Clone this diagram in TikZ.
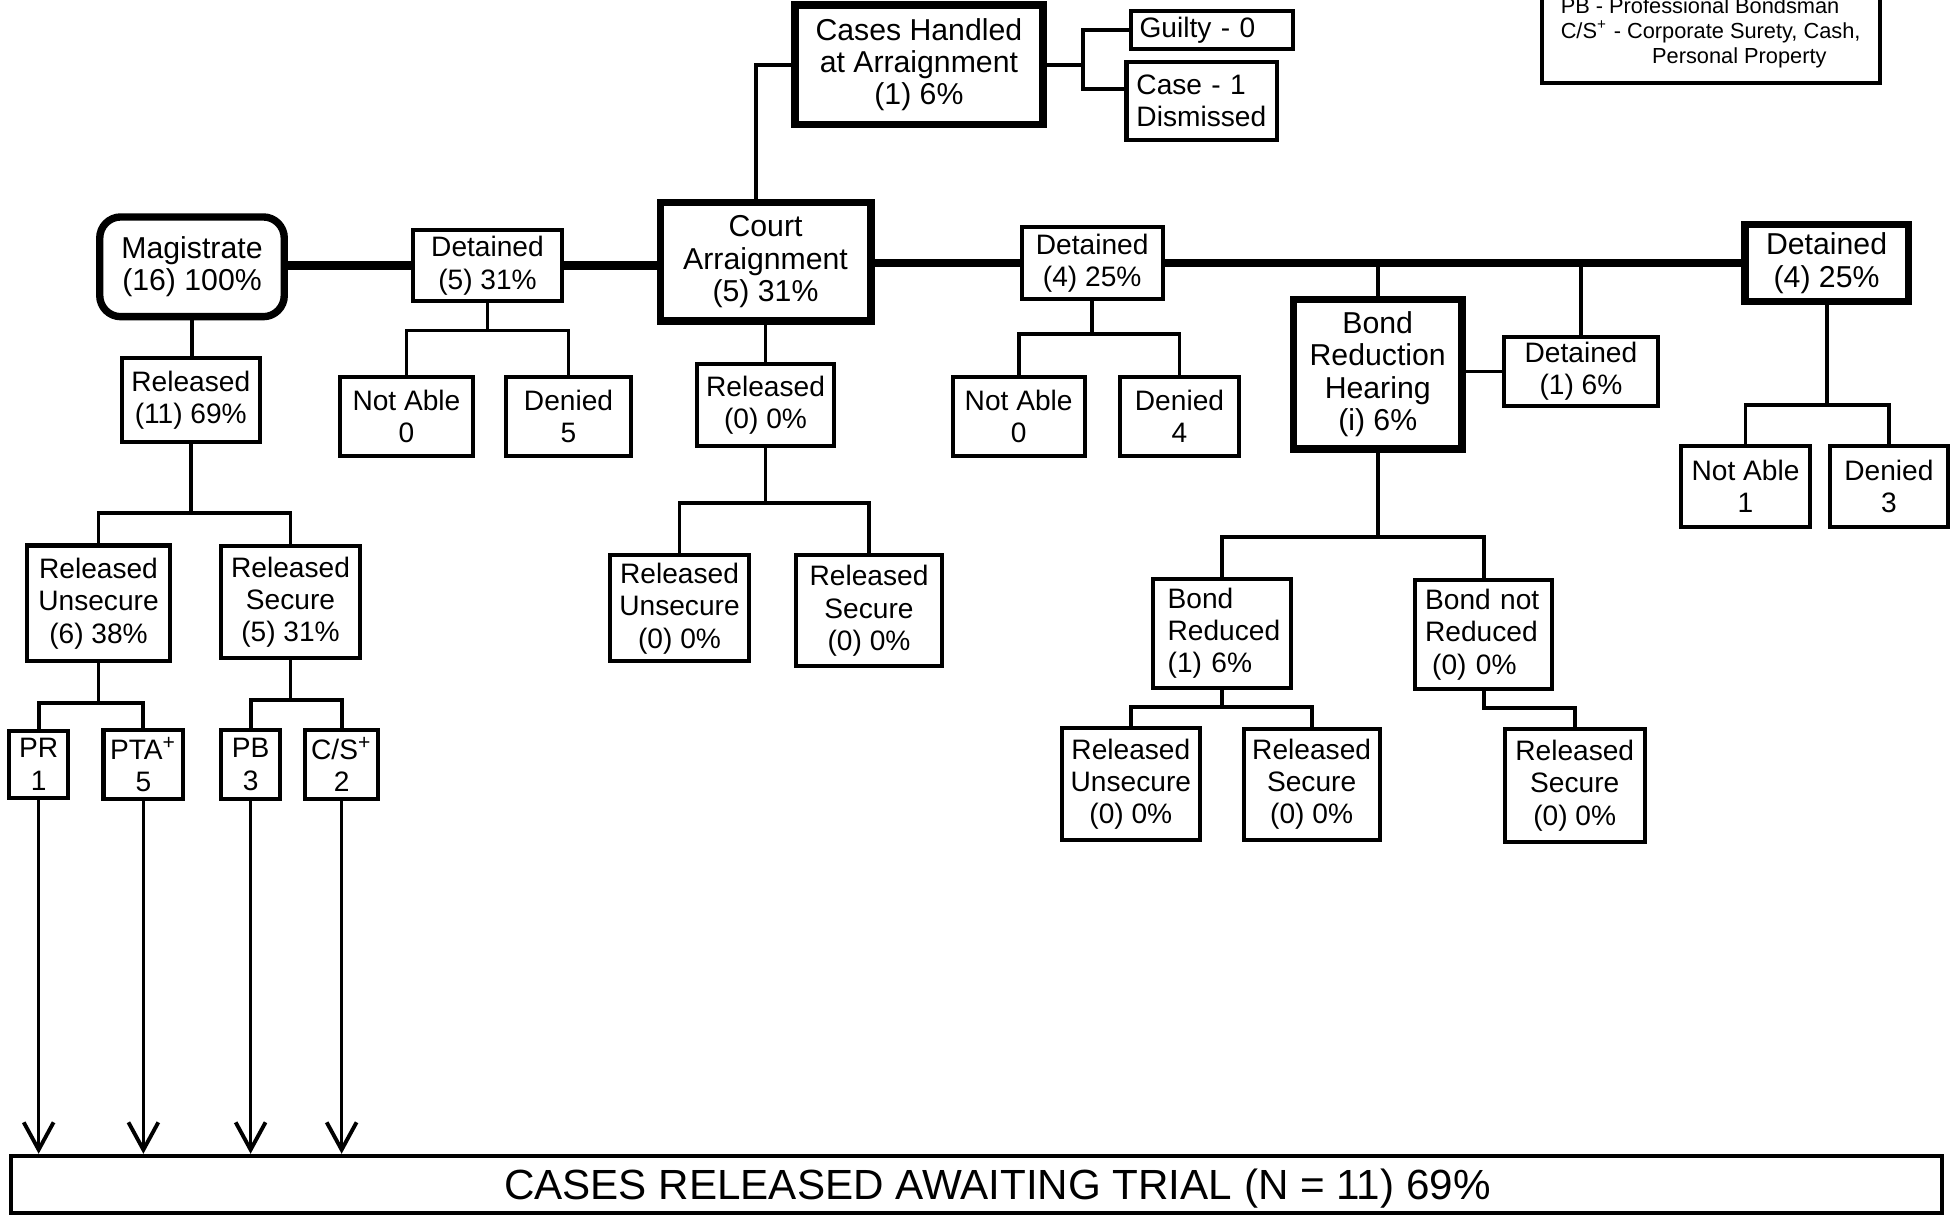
\documentclass[tikz,border=0pt]{standalone}
\usepackage{fontspec}
\setmainfont{Liberation Sans}
\usepackage{tikz}
\usetikzlibrary{arrows.meta}
\newcommand\pxl{0.012468cm}
\tikzset{ box_size/.style 2 args = {minimum width=#1*\pxl, minimum height=#2*\pxl} }
\tikzset{ leaf_box/.style = {rectangle, draw, line width=1.15pt, inner sep=0pt, align=center, font=\fontsize{8}{9.2}\selectfont} }
\tikzset{ stage_box/.style = {leaf_box, line width=2.1pt, font=\fontsize{8.6}{9.2}\selectfont} }
\tikzset{ trunk_line/.style = {line width=2.5pt} }
\tikzset{ link_line/.style = {line width=1.1pt} }
\tikzset{ flow_line/.style = {line width=0.8pt, -{Straight Barb[length=7.8pt,width=8.5pt,line width=1.1pt]}} }

\begin{document}
\begin{tikzpicture}[x=\pxl, y=-\pxl]
            \clip (0,0) rectangle (1568,975);
                    % magistrate stage
                    \node [stage_box, box_size={148}{80}, rounded corners=6pt] (mag) at (154,214) {Magistrate\\(16) 100\%};
                    \node [leaf_box, box_size={120}{57}] (det_mag) at (391,213) {Detained\\(5) 31\%};
                    \node [leaf_box, box_size={106}{63}] (notable_mag) at (326,334) {Not Able\\0};
                    \node [leaf_box, box_size={100}{63}] (denied_mag) at (456,334) {Denied\\5};
                    \node [leaf_box, box_size={111}{67}] (rel_mag) at (153,321) {Released\\(11) 69\%};
                    \node [leaf_box, box_size={114}{93}] (uns_mag) at (79,484) {Released\\Unsecure\\(6) 38\%};
                    \node [leaf_box, box_size={111}{90}] (sec_mag) at (233,483) {Released\\Secure\\(5) 31\%};
                    \node [leaf_box, box_size={47}{54}] (pr) at (31,613) {PR\\1};
                    \node [leaf_box, box_size={64}{55}] (pta) at (115,613) {PTA\textsuperscript{+}\\5};
                    \node [leaf_box, box_size={47}{55}] (pb) at (201,613) {PB\\3};
                    \node [leaf_box, box_size={58}{55}] (cs) at (274,613) {C/S\textsuperscript{+}\\2};
                    % court stage
                    \node [stage_box, box_size={169}{95}] (court) at (614,210) {Court\\Arraignment\\(5) 31\%};
                    \node [stage_box, box_size={199}{96}] (handled) at (737,52) {Cases Handled\\at Arraignment\\(1) 6\%};
                    \node [leaf_box, align=left, text width=116*\pxl, inner xsep=7*\pxl, minimum height=31*\pxl] (guilty) at (972,24) {Guilty - 0};
                    \node [leaf_box, align=left, text width=105*\pxl, inner xsep=8*\pxl, minimum height=63*\pxl] (dismissed) at (964,81) {Case - 1\\Dismissed};
                    \node [leaf_box, box_size={110}{66}] (rel_court) at (614,325) {Released\\(0) 0\%};
                    \node [leaf_box, box_size={111}{85}] (uns_court) at (545,488) {Released\\Unsecure\\(0) 0\%};
                    \node [leaf_box, box_size={117}{89}] (sec_court) at (697,490) {Released\\Secure\\(0) 0\%};
                    \node [leaf_box, box_size={113}{58}] (det_court) at (876,211) {Detained\\(4) 25\%};
                    \node [leaf_box, box_size={106}{63}] (notable_court) at (817,334) {Not Able\\0};
                    \node [leaf_box, box_size={96}{63}] (denied_court) at (946,334) {Denied\\4};
                    % bond reduction stage
                    \node [stage_box, box_size={135}{120}] (bond) at (1105,300) {Bond\\Reduction\\Hearing\\(i) 6\%};
                    \node [leaf_box, box_size={123}{56}] (det_bond) at (1268,298) {Detained\\(1) 6\%};
                    \node [leaf_box, align=left, text width=87*\pxl, inner xsep=12*\pxl, minimum height=87*\pxl] (reduced) at (980,508) {Bond\\Reduced\\(1) 6\%};
                    \node [leaf_box, align=left, text width=94*\pxl, inner xsep=8*\pxl, minimum height=87*\pxl] (not_reduced) at (1190,509) {Bond not\\Reduced\\\hspace*{2pt}(0) 0\%};
                    \node [leaf_box, box_size={111}{90}] (uns_bond) at (907,629) {Released\\Unsecure\\(0) 0\%};
                    \node [leaf_box, box_size={109}{89}] (sec_bond) at (1052,629) {Released\\Secure\\(0) 0\%};
                    \node [leaf_box, box_size={112}{90}] (sec_notred) at (1263,630) {Released\\Secure\\(0) 0\%};
                    \node [stage_box, box_size={131}{62}] (det_final) at (1465,211) {Detained\\(4) 25\%};
                    \node [leaf_box, box_size={104}{65}] (notable_final) at (1400,390) {Not Able\\1};
                    \node [leaf_box, box_size={95}{65}] (denied_final) at (1515,390) {Denied\\3};
                    % key and result
                    \node [leaf_box, align=left, anchor=south, minimum width=271*\pxl, inner ysep=12*\pxl, font=\fontsize{6.2}{7.1}\selectfont] (key) at (1372,68) {PB - Professional Bondsman\\C/S\textsuperscript{+} - Corporate Surety, Cash,\\\hspace*{26pt}Personal Property};
                    \node [leaf_box, box_size={1549}{46}, text depth=0pt, font=\fontsize{12}{14}\selectfont] (trial) at (783,950) {\hspace*{12pt}CASES RELEASED AWAITING TRIAL (N = 11) 69\%};
                    % trunk
                    \draw [trunk_line] (mag.east |- det_mag) -- (det_mag.west);
                    \draw [trunk_line] (det_mag.east) -- (det_mag.east -| court.west);
                    \draw [trunk_line] (court.east |- det_court) -- (det_court.west);
                    \draw [trunk_line] (det_court.east) -- (det_court.east -| det_final.west);
                    \draw [link_line] (bond.north) -- (bond.north |- det_court.east);
                    \draw [link_line] (det_bond.north) -- (det_bond.north |- det_court.east);
                    \draw [link_line] (bond.east |- det_bond) -- (det_bond.west);
                    \draw [link_line] ([xshift=-2.8pt]court.north) |- (handled.west);
                    \draw [link_line] (handled.east) -- ++(29,0) coordinate (split_handled);
                    \draw [link_line] (guilty.west) -| (split_handled) |- ([yshift=3.4pt]dismissed.west);
                    % forks
                    \draw [link_line] (mag.south) -- (mag.south |- rel_mag.north);
                    \draw [link_line] (rel_mag.south) -- ++(0,55) coordinate (fork_rel_mag);
                    \draw [link_line] (uns_mag.north) |- (fork_rel_mag) -| (sec_mag.north);
                    \draw [link_line] (uns_mag.south) -- ++(0,32) coordinate (fork_uns_mag);
                    \draw [link_line] (pr.north) |- (fork_uns_mag) -| (pta.north);
                    \draw [link_line] (sec_mag.south) -- ++(0,32) coordinate (fork_sec_mag);
                    \draw [link_line] (pb.north) |- (fork_sec_mag) -| (cs.north);
                    \draw [link_line] (det_mag.south) -- ++(0,22) coordinate (fork_det_mag);
                    \draw [link_line] (notable_mag.north) |- (fork_det_mag) -| (denied_mag.north);
                    \draw [link_line] (court.south) -- (court.south |- rel_court.north);
                    \draw [link_line] (rel_court.south) -- ++(0,44) coordinate (fork_rel_court);
                    \draw [link_line] (uns_court.north) |- (fork_rel_court) -| (sec_court.north);
                    \draw [link_line] (det_court.south) -- ++(0,26) coordinate (fork_det_court);
                    \draw [link_line] (notable_court.north) |- (fork_det_court) -| (denied_court.north);
                    \draw [link_line] (bond.south) -- ++(0,68) coordinate (fork_bond);
                    \draw [link_line] (reduced.north) |- (fork_bond) -| (not_reduced.north);
                    \draw [link_line] (reduced.south) -- ++(0,14) coordinate (fork_reduced);
                    \draw [link_line] (uns_bond.north) |- (fork_reduced) -| (sec_bond.north);
                    \draw [link_line] (not_reduced.south) -- ++(0,14) -| (sec_notred.north);
                    \draw [link_line] (det_final.south) -- ++(0,80) coordinate (fork_det_final);
                    \draw [link_line] (notable_final.north) |- (fork_det_final) -| (denied_final.north);
                    % to trial
                    \draw [flow_line] (pr.south) -- (pr.south |- trial.north);
                    \draw [flow_line] (pta.south) -- (pta.south |- trial.north);
                    \draw [flow_line] (pb.south) -- (pb.south |- trial.north);
                    \draw [flow_line] (cs.south) -- (cs.south |- trial.north);
            \end{tikzpicture}
\end{document}
